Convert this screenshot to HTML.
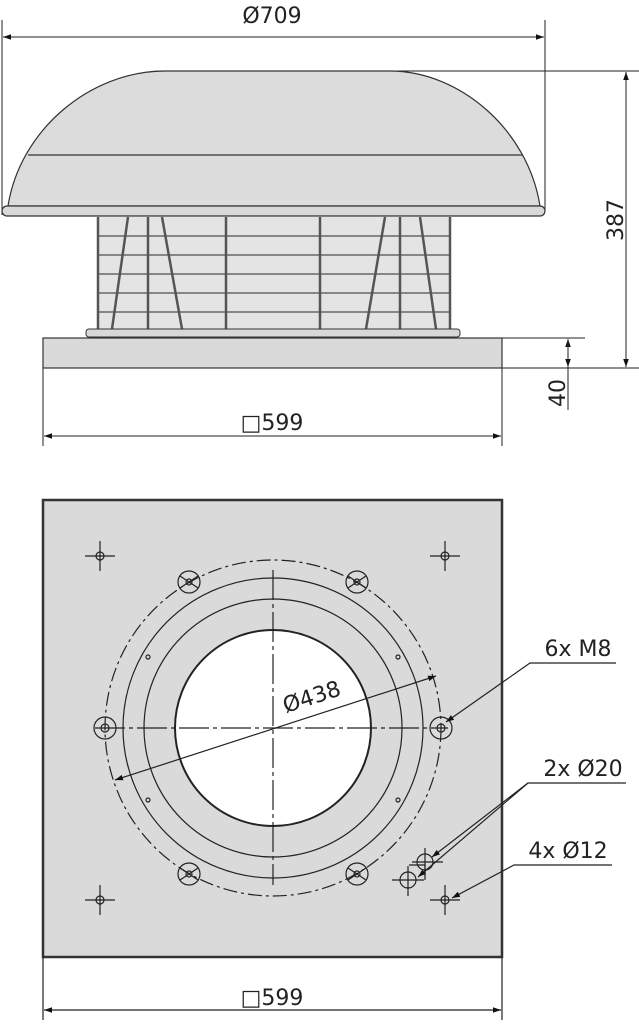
<!DOCTYPE html>
<html><head><meta charset="utf-8"><style>
html,body{margin:0;padding:0;background:#fff}
svg{display:block}
text{font-family:"DejaVu Sans","Liberation Sans",sans-serif;fill:#222}
</style></head><body>
<svg width="639" height="1024" viewBox="0 0 639 1024" xmlns="http://www.w3.org/2000/svg">
<defs>
<marker id="a" viewBox="0 0 10 10" refX="10" refY="5" markerWidth="8" markerHeight="8" orient="auto-start-reverse" markerUnits="userSpaceOnUse"><path d="M0,1.5 L10,5 L0,8.5z" fill="#111"/></marker>
</defs>
<g stroke="#222" fill="none" stroke-width="1">
<line x1="2" y1="20" x2="2" y2="215"/>
<line x1="545" y1="20" x2="545" y2="212"/>
<line x1="3" y1="37" x2="544" y2="37" marker-start="url(#a)" marker-end="url(#a)"/>
<line x1="390" y1="71" x2="639" y2="71"/>
<line x1="502" y1="368" x2="639" y2="368"/>
<line x1="626" y1="72" x2="626" y2="367" marker-start="url(#a)" marker-end="url(#a)"/>
<line x1="502" y1="338" x2="585" y2="338"/>
<line x1="568" y1="339" x2="568" y2="410" marker-start="url(#a)"/>
<line x1="568" y1="339" x2="568" y2="367" marker-end="url(#a)"/>
<line x1="43" y1="368" x2="43" y2="446"/>
<line x1="502" y1="368" x2="502" y2="446"/>
<line x1="44" y1="436" x2="501" y2="436" marker-start="url(#a)" marker-end="url(#a)"/>
</g>
<path d="M8,206 C20,130 90,71 165,71 L390,71 C460,71 528,130 540,206 Z" fill="#dcdcdc" stroke="#333" stroke-width="1.2"/>
<line x1="28" y1="155" x2="522" y2="155" stroke="#333" stroke-width="1.2"/>
<rect x="2" y="206" width="543" height="10" rx="5" fill="#d8d8d8" stroke="#333" stroke-width="1.2"/>
<rect x="98" y="217" width="352" height="112" fill="#e4e4e4"/>
<g stroke="#666" stroke-width="1.5">
<line x1="98" y1="236" x2="450" y2="236"/><line x1="98" y1="255" x2="450" y2="255"/>
<line x1="98" y1="274" x2="450" y2="274"/><line x1="98" y1="293" x2="450" y2="293"/>
<line x1="98" y1="312" x2="450" y2="312"/>
</g>
<g stroke="#555" stroke-width="2.5" fill="none">
<line x1="98" y1="217" x2="98" y2="329"/><line x1="450" y1="217" x2="450" y2="329"/>
<line x1="148" y1="217" x2="148" y2="329"/><line x1="226" y1="217" x2="226" y2="329"/>
<line x1="320" y1="217" x2="320" y2="329"/><line x1="400" y1="217" x2="400" y2="329"/>
<line x1="128" y1="217" x2="112" y2="329"/><line x1="162" y1="217" x2="182" y2="329"/>
<line x1="385" y1="217" x2="366" y2="329"/><line x1="420" y1="217" x2="436" y2="329"/>
</g>
<rect x="86" y="329" width="374" height="8" rx="3" fill="#d8d8d8" stroke="#333"/>
<rect x="43" y="338" width="459" height="30" fill="#dadada" stroke="#333" stroke-width="1.2"/>
<text x="272" y="23" font-size="22" text-anchor="middle">Ø709</text>
<text x="272" y="430" font-size="22" text-anchor="middle">□599</text>
<text transform="translate(623,220) rotate(-90)" font-size="22" text-anchor="middle">387</text>
<text transform="translate(565,393) rotate(-90)" font-size="22" text-anchor="middle">40</text>

<rect x="43" y="500" width="459" height="457" fill="#dadada" stroke="#333" stroke-width="2.5"/>
<g stroke="#222" fill="none" stroke-width="1.2">
<circle cx="273" cy="728" r="98" fill="#fff" stroke-width="2"/>
<circle cx="273" cy="728" r="129"/>
<circle cx="273" cy="728" r="150"/>
<circle cx="273" cy="728" r="168" stroke-dasharray="14,4,3,4"/>
<line x1="273" y1="570" x2="273" y2="885" stroke-dasharray="30,4,4,4"/>
<line x1="95" y1="728" x2="448" y2="728" stroke-dasharray="30,4,4,4"/>
<line x1="115" y1="780" x2="436" y2="676" marker-start="url(#a)" marker-end="url(#a)"/>
</g>
<text transform="translate(314,704) rotate(-18)" font-size="22" text-anchor="middle">Ø438</text>
<g stroke="#222" fill="none" stroke-width="1.2">
<circle cx="105" cy="728" r="11"/><circle cx="105" cy="728" r="4"/>
<circle cx="441" cy="728" r="11"/><circle cx="441" cy="728" r="4"/>
<circle cx="189" cy="582" r="11"/><circle cx="189" cy="582" r="3"/>
<circle cx="357" cy="582" r="11"/><circle cx="357" cy="582" r="3"/>
<circle cx="189" cy="874" r="11"/><circle cx="189" cy="874" r="3"/>
<circle cx="357" cy="874" r="11"/><circle cx="357" cy="874" r="3"/>
<path d="M180,576 L198,588 M180,588 L198,576 M348,576 L366,588 M348,588 L366,576 M180,868 L198,880 M180,880 L198,868 M348,868 L366,880 M348,880 L366,868"/>
<circle cx="148" cy="657" r="2"/><circle cx="398" cy="657" r="2"/>
<circle cx="148" cy="800" r="2"/><circle cx="398" cy="800" r="2"/>
<circle cx="100" cy="556" r="4"/><path d="M85,556 H115 M100,541 V571"/>
<circle cx="445" cy="556" r="4"/><path d="M430,556 H460 M445,541 V571"/>
<circle cx="100" cy="900" r="4"/><path d="M85,900 H115 M100,885 V915"/>
<circle cx="445" cy="900" r="4"/><path d="M430,900 H460 M445,885 V915"/>
<circle cx="425" cy="862" r="8"/><path d="M412,862 H443 M425,848 V876"/>
<circle cx="408" cy="880" r="8"/><path d="M392,880 H424 M408,866 V896"/>
<path d="M409,865 H425 V880"/>
<path d="M616,663 H530 L446,722" marker-end="url(#a)"/>
<path d="M626,783 H528 L432,857" marker-end="url(#a)"/>
<path d="M528,783 L418,877" marker-end="url(#a)"/>
<path d="M612,865 H514 L452,898" marker-end="url(#a)"/>
<line x1="43" y1="957" x2="43" y2="1020"/><line x1="502" y1="957" x2="502" y2="1020"/>
<line x1="44" y1="1010" x2="501" y2="1010" marker-start="url(#a)" marker-end="url(#a)"/>
</g>
<text x="578" y="656" font-size="22" text-anchor="middle">6x M8</text>
<text x="583" y="776" font-size="22" text-anchor="middle">2x Ø20</text>
<text x="568" y="858" font-size="22" text-anchor="middle">4x Ø12</text>
<text x="272" y="1005" font-size="22" text-anchor="middle">□599</text>
</svg>
</body></html>
